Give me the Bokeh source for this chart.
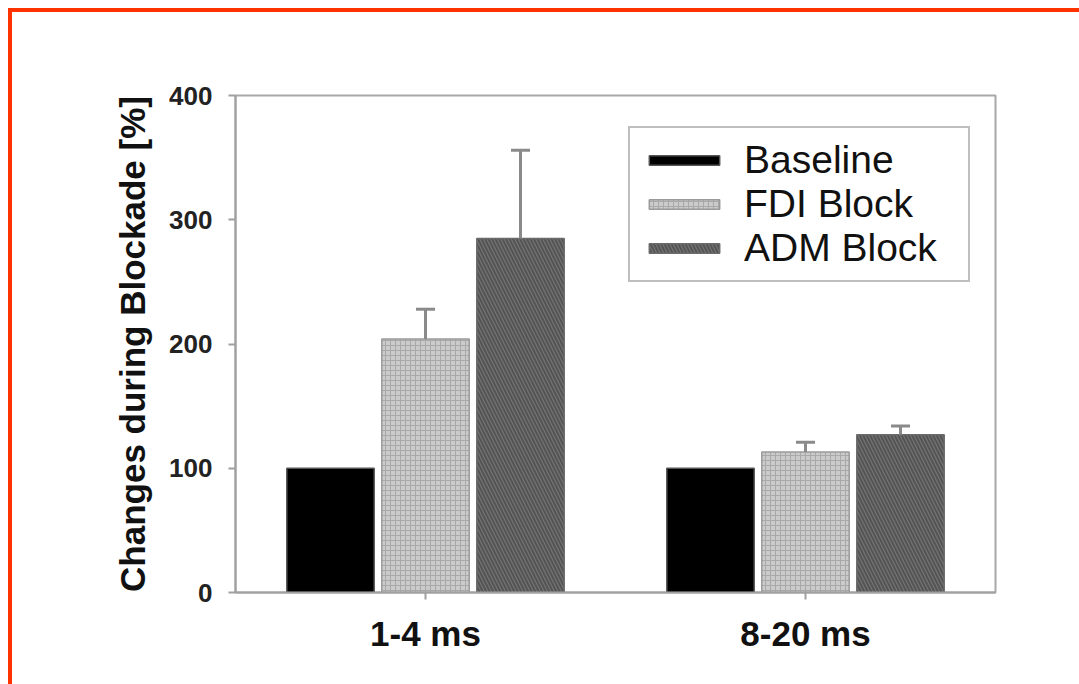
from bokeh.plotting import figure
from bokeh.models import (ColumnDataSource, FactorRange, FixedTicker, Legend, LegendItem)
from bokeh.transform import dodge
from bokeh.embed import file_html
from bokeh.resources import INLINE

groups = ["1-4 ms", "8-20 ms"]
series = ["Baseline", "FDI Block", "ADM Block"]
baseline = [100, 100]
fdi = [204, 113]
adm = [285, 127]
fdi_err = [24, 8]
adm_err = [71, 7]
y_ticks = [0, 100, 200, 300, 400]

source = ColumnDataSource(dict(
    group=groups,
    baseline=baseline,
    fdi=fdi,
    adm=adm,
    fdi_top=[v + e for v, e in zip(fdi, fdi_err)],
    adm_top=[v + e for v, e in zip(adm, adm_err)],
))

FONT = "Liberation Sans"

p = figure(
    x_range=FactorRange(*groups, range_padding=0),
    y_range=(0, 400),
    frame_width=760, frame_height=497,
    min_border_left=223, min_border_top=83, min_border_right=84, min_border_bottom=92,
    output_backend="svg", toolbar_location=None,
    background_fill_color="white", border_fill_color="white",
    margin=(8, 0, 0, 8),
    styles={"border-top": "4px solid #FF3300", "border-left": "4px solid #FF3300"},
)

BAR_W = 0.23
r_base = p.vbar(x=dodge("group", -0.25, range=p.x_range), top="baseline", width=BAR_W,
                source=source, fill_color="black", line_color="#555555", line_width=1.5)
r_fdi = p.vbar(x=dodge("group", 0.0, range=p.x_range), top="fdi", width=BAR_W,
               source=source, fill_color="#cbcbcb", line_color="#9a9a9a", line_width=1.5,
               hatch_pattern="cross", hatch_color="#a9a9a9", hatch_scale=5, hatch_weight=1)
r_adm = p.vbar(x=dodge("group", 0.25, range=p.x_range), top="adm", width=BAR_W,
               source=source, fill_color="#747474", line_color="#6a6a6a", line_width=1.5,
               hatch_pattern="left_diagonal_line", hatch_color="#545454", hatch_scale=7,
               hatch_weight=2)

ERR_COLOR = "#8a8a8a"
for off, lo, hi in [(0.0, "fdi", "fdi_top"), (0.25, "adm", "adm_top")]:
    xs = dodge("group", off, range=p.x_range)
    p.segment(x0=xs, x1=xs, y0=lo, y1=hi, source=source, line_color=ERR_COLOR, line_width=3)
    p.scatter(x=xs, y=hi, source=source, marker="dash", size=19, line_color=ERR_COLOR,
              line_width=3)

legend = Legend(items=[
    LegendItem(label=series[0], renderers=[r_base]),
    LegendItem(label=series[1], renderers=[r_fdi]),
    LegendItem(label=series[2], renderers=[r_adm]),
], location=(393, 310))
legend.label_text_font = FONT
legend.label_text_font_size = "39px"
legend.label_text_color = "#111111"
legend.glyph_width = 88
legend.glyph_height = 12
legend.label_standoff = 16
legend.label_width = 214
legend.padding = 10
legend.spacing = -2
legend.margin = 0
legend.border_line_color = "#808080"
legend.border_line_width = 2
legend.background_fill_color = "white"
legend.background_fill_alpha = 1.0
p.add_layout(legend, "center")

p.xgrid.visible = False
p.ygrid.visible = False
p.outline_line_color = "#a8a8a8"
p.outline_line_width = 2

p.yaxis.ticker = FixedTicker(ticks=y_ticks)
p.yaxis.axis_label = "Changes during Blockade [%]"
p.yaxis.axis_label_text_font = FONT
p.yaxis.axis_label_text_font_size = "35px"
p.yaxis.axis_label_text_font_style = "bold"
p.yaxis.axis_label_text_color = "#111111"
p.yaxis.axis_label_standoff = 14
p.yaxis.major_label_text_font = FONT
p.yaxis.major_label_text_font_size = "26px"
p.yaxis.major_label_text_font_style = "bold"
p.yaxis.major_label_text_color = "#222222"
p.yaxis.major_label_standoff = 16

p.xaxis.major_label_text_font = FONT
p.xaxis.major_label_text_font_size = "35px"
p.xaxis.major_label_text_font_style = "bold"
p.xaxis.major_label_text_color = "#111111"
p.xaxis.major_label_standoff = 14

for ax in (p.xaxis, p.yaxis):
    ax.axis_line_color = "#a0a0a0"
    ax.axis_line_width = 2
    ax.major_tick_line_color = "#a0a0a0"
    ax.major_tick_line_width = 2
    ax.major_tick_in = 0
    ax.major_tick_out = 7
    ax.minor_tick_line_color = None

open("out.html", "w").write(file_html(p, INLINE))
